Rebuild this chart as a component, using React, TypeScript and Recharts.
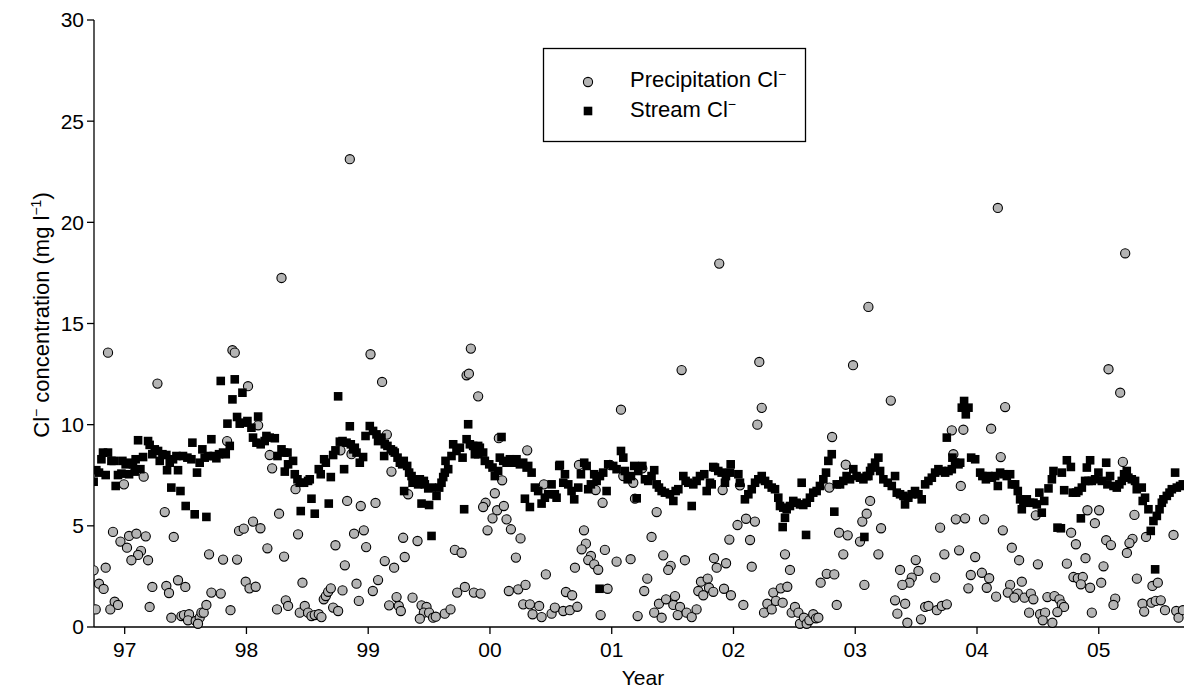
import React from 'react';
import { ScatterChart, Scatter, XAxis, YAxis } from 'recharts';

const yearTicks = [97, 98, 99, 100, 101, 102, 103, 104, 105];
const concTicks = [0, 5, 10, 15, 20, 25, 30];

const precipYears = [
  96.745, 96.844, 96.789, 96.827, 96.762, 96.882, 96.918, 96.945, 96.863, 96.904, 96.965, 97.019, 97.036, 97.096, 97.173,
  97.134, 97.11, 97.055, 97.192, 97.156, 96.994, 97.227, 97.205, 97.269, 97.329, 97.403, 97.342, 97.364, 97.438, 97.498,
  97.383, 97.466, 97.487, 97.529, 97.52, 97.583, 97.616, 97.63, 97.649, 97.671, 97.602, 97.693, 97.712, 97.789, 97.808,
  97.869, 97.841, 97.885, 97.904, 97.923, 97.939, 97.978, 98.013, 97.994, 98.025, 98.096, 98.288, 98.849, 99.019, 99.114,
  98.054, 98.115, 98.172, 98.191, 98.211, 98.268, 98.309, 98.076, 98.403, 98.424, 98.46, 98.251, 98.323, 98.342, 98.438,
  98.479, 98.506, 98.534, 98.561, 98.594, 98.616, 98.635, 98.652, 98.671, 98.693, 98.712, 98.753, 98.789, 98.808, 98.731,
  98.772, 98.827, 98.863, 98.884, 98.904, 98.923, 98.939, 98.964, 98.983, 99.038, 99.06, 99.081, 99.136, 99.153, 99.191,
  99.213, 99.172, 99.233, 99.251, 99.268, 99.287, 99.3, 99.328, 99.405, 99.364, 99.438, 99.479, 99.457, 99.5, 99.424,
  99.533, 99.555, 99.629, 99.676, 99.712, 99.767, 99.731, 99.794, 99.868, 99.923, 99.843, 99.808, 99.827, 99.903, 100.073,
  100.306, 100.1, 100.04, 99.964, 99.944, 100.059, 100.114, 100.021, 99.98, 100.136, 100.172, 100.251, 100.213, 100.443, 100.459,
  100.155, 100.232, 100.292, 100.273, 100.328, 100.404, 100.35, 100.424, 100.506, 100.533, 101.574, 101.076, 100.731, 100.985, 101.095,
  101.177, 100.868, 101.251, 101.191, 100.925, 101.369, 100.772, 100.788, 100.753, 100.829, 100.807, 100.856, 100.889, 100.944, 101.04,
  101.155, 101.327, 101.423, 101.484, 101.464, 101.601, 100.698, 100.624, 100.675, 100.602, 100.656, 100.717, 100.966, 100.909, 101.213,
  101.292, 101.267, 101.349, 101.388, 101.41, 101.446, 101.506, 101.52, 101.561, 101.542, 101.615, 101.657, 101.697, 101.733, 101.788,
  101.711, 101.752, 101.799, 101.834, 101.84, 101.862, 101.883, 102.212, 102.232, 102.196, 102.81, 102.982, 103.108, 102.922, 101.911,
  102.053, 102.787, 102.033, 102.103, 102.176, 101.966, 102.136, 101.939, 102.15, 101.922, 101.979, 102.081, 102.423, 102.464, 102.327,
  102.388, 102.442, 102.251, 102.278, 102.314, 102.349, 102.404, 102.478, 102.505, 102.533, 102.546, 102.579, 102.601, 102.623, 102.655,
  102.678, 102.697, 102.716, 102.766, 102.828, 102.848, 102.867, 102.938, 102.902, 103.039, 103.058, 103.094, 103.122, 103.075, 104.171,
  103.292, 104.231, 103.793, 103.888, 104.116, 103.806, 104.195, 103.867, 103.212, 103.697, 103.826, 103.902, 104.058, 104.212, 104.286,
  104.346, 103.19, 103.732, 103.853, 103.985, 103.497, 103.368, 103.519, 103.464, 103.445, 103.387, 103.656, 103.949, 104.04, 104.1,
  103.929, 104.08, 104.272, 104.253, 104.335, 104.307, 104.368, 104.39, 104.157, 103.327, 103.41, 103.346, 103.428, 103.54, 103.574,
  103.601, 103.67, 103.711, 103.752, 105.217, 105.08, 105.176, 105.198, 105.293, 104.907, 105.003, 104.968, 104.483, 104.773, 104.812,
  105.061, 105.1, 105.277, 105.252, 105.231, 105.388, 105.614, 104.5, 104.738, 104.891, 105.039, 104.792, 104.828, 104.869, 104.853,
  104.929, 105.02, 105.313, 105.441, 105.485, 104.442, 104.463, 104.578, 104.636, 104.677, 104.696, 104.715, 104.428, 104.518, 104.559,
  104.54, 104.619, 104.66, 104.943, 105.135, 105.121, 105.359, 105.373, 105.433, 105.468, 105.509, 105.544, 105.636, 105.655, 105.691,
];

const precipCl = [
  2.8, 2.93, 2.14, 1.88, 0.87, 0.87, 1.25, 1.09, 13.56, 4.7, 4.22, 3.92, 4.5, 4.61, 4.48,
  3.76, 3.56, 3.3, 3.3, 7.43, 7.05, 1.98, 0.99, 12.03, 5.68, 4.45, 2.03, 1.68, 2.31, 1.98,
  0.46, 0.54, 0.59, 0.63, 0.33, 0.3, 0.46, 0.71, 0.71, 1.09, 0.16, 3.59, 1.7, 1.65, 3.33,
  0.83, 9.19, 13.68, 13.56, 3.33, 4.75, 4.86, 11.9, 2.24, 1.91, 9.97, 17.25, 23.12, 13.48, 12.11,
  5.21, 4.88, 3.89, 8.5, 7.84, 5.6, 3.48, 1.99, 6.81, 4.58, 2.19, 0.87, 1.32, 1.04, 0.71,
  1.04, 0.71, 0.54, 0.59, 0.63, 0.49, 1.37, 1.53, 1.74, 1.91, 0.96, 0.79, 1.81, 3.05, 4.04,
  8.73, 6.23, 8.54, 4.61, 2.14, 1.29, 5.98, 4.78, 3.95, 1.78, 6.13, 2.32, 3.26, 9.51, 7.68,
  2.93, 1.07, 1.48, 1.04, 0.79, 4.41, 3.46, 6.56, 4.25, 1.45, 1.07, 0.99, 0.71, 0.71, 0.41,
  0.46, 0.51, 0.66, 0.87, 3.81, 3.67, 1.7, 1.98, 1.7, 1.65, 13.76, 12.44, 12.52, 11.4, 9.33,
  8.73, 7.25, 6.61, 6.14, 5.93, 5.77, 5.98, 5.37, 4.78, 5.32, 4.83, 4.38, 3.43, 7.05, 2.6,
  1.78, 1.86, 2.08, 1.12, 1.12, 1.04, 0.63, 0.49, 0.66, 0.96, 12.7, 10.74, 8.01, 8.01, 7.46,
  7.13, 6.77, 7.84, 6.34, 6.14, 5.68, 4.78, 4.12, 3.84, 3.51, 3.31, 3.1, 2.83, 3.81, 3.23,
  3.35, 4.45, 3.54, 3.02, 2.82, 3.3, 2.93, 1.73, 1.57, 0.79, 0.83, 1.0, 1.89, 0.59, 0.54,
  2.39, 1.78, 0.71, 1.15, 0.46, 1.37, 1.09, 1.53, 0.99, 0.59, 0.71, 0.49, 0.87, 2.24, 2.39,
  1.78, 1.57, 1.94, 1.74, 3.4, 2.93, 17.96, 13.1, 10.83, 10.0, 9.39, 12.94, 15.82, 8.02, 6.77,
  7.0, 6.89, 5.04, 5.35, 5.21, 4.32, 4.3, 3.15, 2.98, 1.89, 1.57, 1.09, 3.59, 2.82, 1.7,
  1.91, 1.99, 0.71, 1.15, 0.87, 1.29, 1.2, 0.71, 0.99, 0.71, 0.16, 0.46, 0.16, 0.33, 0.63,
  0.43, 0.46, 2.19, 2.63, 2.6, 1.09, 4.66, 4.53, 3.59, 4.22, 5.21, 5.6, 6.23, 2.08, 20.71,
  11.19, 10.87, 9.72, 9.75, 9.8, 8.54, 8.4, 6.97, 4.88, 4.91, 5.32, 5.37, 5.32, 4.78, 3.92,
  3.3, 3.59, 3.59, 3.79, 3.46, 3.31, 2.82, 2.77, 2.44, 2.19, 2.08, 2.44, 2.57, 2.68, 2.41,
  1.91, 1.94, 2.08, 1.7, 1.65, 1.45, 2.24, 1.45, 1.5, 1.32, 1.15, 0.66, 0.21, 0.38, 0.99,
  1.04, 0.83, 1.04, 1.12, 18.47, 12.74, 11.58, 8.16, 5.54, 5.77, 5.77, 5.13, 5.52, 4.66, 4.09,
  4.29, 4.05, 4.36, 4.15, 3.66, 4.45, 4.55, 3.1, 3.13, 3.4, 3.0, 2.47, 2.41, 2.47, 2.11,
  1.94, 2.19, 2.39, 2.03, 2.19, 1.65, 1.37, 1.48, 1.53, 1.37, 1.12, 0.99, 0.71, 0.63, 0.71,
  0.33, 0.21, 0.74, 0.71, 1.4, 1.09, 1.15, 0.76, 1.2, 1.29, 1.32, 0.83, 0.79, 0.46, 0.83,
];

const streamYears = [
  96.745, 96.767, 96.789, 96.822, 96.863, 96.809, 96.844, 96.891, 96.91, 96.926, 96.945, 96.973, 96.981, 97.008, 97.027,
  97.036, 97.068, 97.09, 97.082, 97.11, 97.129, 97.151, 97.192, 97.205, 97.227, 97.247, 97.274, 97.288, 97.31, 97.342,
  97.348, 97.37, 97.397, 97.425, 97.383, 97.438, 97.458, 97.479, 97.515, 97.548, 97.501, 97.556, 97.575, 97.594, 97.616,
  97.638, 97.657, 97.684, 97.712, 97.731, 97.753, 97.775, 97.808, 97.83, 97.671, 97.789, 97.844, 97.863, 97.885, 97.904,
  97.923, 97.945, 97.967, 97.986, 98.008, 98.041, 98.096, 98.054, 98.082, 98.117, 98.15, 98.164, 98.191, 98.233, 98.255,
  98.288, 98.309, 98.337, 98.315, 98.342, 98.383, 98.397, 98.419, 98.438, 98.473, 98.506, 98.52, 98.446, 98.534, 98.561,
  98.594, 98.61, 98.638, 98.652, 98.676, 98.693, 98.712, 98.731, 98.767, 98.789, 98.822, 98.857, 98.876, 98.89, 98.753,
  98.802, 98.849, 98.904, 98.931, 98.958, 98.978, 99.013, 99.04, 99.068, 99.081, 99.109, 99.136, 99.131, 99.158, 99.186,
  99.205, 99.218, 99.241, 99.26, 99.279, 99.295, 99.292, 99.32, 99.336, 99.356, 99.364, 99.383, 99.41, 99.424, 99.457,
  99.465, 99.493, 99.52, 99.561, 99.583, 99.602, 99.616, 99.629, 99.657, 99.438, 99.5, 99.52, 99.635, 99.684, 99.698,
  99.725, 99.753, 99.775, 99.788, 99.821, 99.808, 99.835, 99.862, 99.884, 99.903, 99.917, 99.876, 99.903, 99.944, 99.958,
  99.994, 100.021, 100.04, 100.067, 100.081, 100.095, 100.109, 100.136, 100.164, 100.191, 100.218, 100.246, 100.273, 100.301, 100.314,
  100.342, 100.287, 100.328, 100.369, 100.396, 100.424, 100.451, 100.478, 100.506, 100.533, 100.547, 100.569, 100.574, 100.602, 100.616,
  100.643, 100.67, 100.692, 100.725, 100.747, 100.774, 100.794, 100.807, 100.829, 100.856, 100.876, 100.903, 100.93, 100.958, 100.971,
  101.012, 101.04, 101.076, 101.095, 101.108, 101.131, 101.158, 101.185, 101.205, 101.218, 101.251, 101.273, 101.3, 101.327, 101.349,
  101.369, 101.388, 101.41, 101.437, 101.478, 101.506, 101.525, 101.547, 101.588, 101.607, 101.629, 101.657, 101.67, 101.697, 101.725,
  101.76, 101.78, 101.807, 101.834, 100.9, 101.821, 101.848, 101.875, 101.903, 101.938, 101.93, 101.977, 101.971, 102.04, 102.053,
  102.094, 102.122, 102.15, 102.177, 102.204, 102.232, 102.259, 102.286, 102.314, 102.341, 102.368, 102.382, 102.409, 102.437, 102.464,
  102.491, 102.519, 102.546, 102.573, 102.601, 102.628, 102.655, 102.683, 102.71, 102.738, 102.76, 102.779, 102.807, 102.56, 102.828,
  102.423, 102.404, 102.596, 102.848, 102.875, 102.902, 102.929, 102.957, 102.984, 103.011, 103.039, 103.067, 103.094, 103.122, 103.075,
  103.108, 103.135, 103.163, 103.19, 103.204, 103.231, 103.267, 103.3, 103.327, 103.341, 103.368, 103.396, 103.409, 103.436, 103.464,
  103.491, 103.519, 103.546, 103.574, 103.601, 103.629, 103.656, 103.683, 103.711, 103.738, 103.752, 103.766, 103.793, 103.798, 103.82,
  103.848, 103.862, 103.875, 103.894, 103.908, 103.93, 103.952, 103.985, 104.026, 104.044, 104.073, 104.094, 104.122, 104.149, 104.171,
  104.19, 104.217, 104.245, 104.272, 104.286, 104.313, 104.335, 104.354, 104.368, 104.39, 104.381, 104.409, 104.436, 104.464, 104.491,
  104.512, 104.532, 104.552, 104.587, 104.615, 104.628, 104.661, 104.689, 104.697, 104.716, 104.738, 104.771, 104.787, 104.814, 104.833,
  104.853, 104.861, 104.888, 104.902, 104.929, 104.916, 104.943, 104.97, 104.997, 105.025, 105.061, 105.071, 105.093, 105.121, 105.148,
  105.169, 105.189, 105.208, 105.23, 105.243, 105.271, 105.298, 105.312, 105.353, 105.361, 105.38, 105.408, 105.427, 105.449, 105.463,
  105.477, 105.499, 105.518, 105.531, 105.559, 105.581, 105.6, 105.627, 105.641, 105.668, 105.69,
];

const streamCl = [
  7.18, 7.75, 7.63, 8.62, 8.62, 8.29, 7.51, 8.21, 8.21, 6.97, 7.51, 7.58, 8.21, 8.04, 8.12,
  7.55, 8.04, 8.29, 7.68, 9.23, 7.8, 8.4, 9.19, 9.0, 8.54, 8.78, 8.7, 8.21, 8.54, 8.5,
  7.75, 8.12, 8.29, 8.45, 6.89, 7.75, 6.72, 8.45, 8.37, 8.29, 5.98, 9.11, 5.57, 7.63, 8.12,
  8.78, 8.37, 8.45, 9.28, 8.45, 8.34, 8.54, 8.62, 8.54, 5.44, 12.16, 10.05, 8.95, 11.25, 12.24,
  10.38, 10.05, 11.58, 10.1, 10.18, 9.85, 10.4, 9.36, 9.11, 9.03, 9.19, 9.44, 9.36, 9.33, 8.45,
  8.78, 8.62, 8.62, 7.68, 8.04, 8.21, 7.55, 7.3, 7.13, 7.13, 7.22, 7.3, 5.73, 6.34, 5.6,
  7.8, 7.55, 8.29, 8.12, 6.1, 7.41, 8.5, 8.73, 9.16, 9.19, 9.11, 9.03, 8.78, 8.86, 11.4,
  7.8, 9.92, 8.62, 8.12, 8.4, 9.44, 9.93, 9.69, 9.52, 9.19, 9.36, 9.03, 8.45, 8.95, 8.78,
  8.7, 8.62, 8.37, 8.12, 8.04, 6.72, 8.21, 7.96, 7.63, 7.46, 7.13, 7.3, 7.05, 7.3, 7.22,
  7.05, 6.85, 6.89, 6.48, 6.89, 7.13, 7.41, 7.63, 7.8, 6.1, 6.03, 4.5, 8.21, 8.45, 9.03,
  8.7, 8.86, 8.37, 5.82, 10.02, 9.28, 9.03, 8.95, 8.7, 8.95, 8.86, 8.54, 8.54, 8.62, 8.21,
  8.04, 7.88, 7.46, 7.71, 8.37, 9.39, 8.21, 8.12, 8.29, 8.12, 8.29, 8.04, 8.12, 7.88, 7.96,
  7.63, 6.34, 5.93, 6.89, 6.72, 6.1, 6.39, 6.56, 7.05, 6.56, 6.39, 7.96, 8.01, 7.13, 7.55,
  7.05, 6.72, 6.31, 6.89, 7.55, 8.12, 7.96, 6.81, 7.05, 7.55, 7.22, 7.46, 7.63, 6.72, 8.04,
  7.96, 7.8, 8.7, 8.37, 7.71, 7.3, 7.46, 7.96, 6.36, 7.71, 7.96, 7.3, 7.22, 7.46, 7.75,
  7.05, 6.89, 6.72, 6.64, 6.56, 6.23, 6.72, 6.81, 7.46, 7.22, 7.13, 5.98, 7.05, 7.22, 7.46,
  7.55, 6.72, 7.13, 7.91, 1.89, 7.05, 7.88, 7.71, 7.63, 7.46, 7.13, 8.04, 7.63, 7.55, 7.13,
  6.31, 6.56, 6.81, 7.13, 7.3, 7.46, 7.22, 7.05, 6.89, 6.81, 6.39, 5.98, 5.9, 5.82, 5.98,
  6.23, 6.14, 6.06, 6.03, 6.14, 6.39, 6.64, 6.72, 6.97, 7.3, 7.63, 8.21, 8.54, 7.13, 5.7,
  5.4, 4.94, 4.55, 7.05, 7.05, 7.22, 7.46, 7.3, 7.8, 7.46, 7.38, 7.3, 7.46, 7.71, 4.45,
  7.46, 7.88, 8.12, 8.37, 7.71, 7.3, 7.13, 6.97, 7.46, 6.64, 6.56, 6.48, 6.06, 6.39, 6.56,
  6.72, 6.56, 6.31, 7.05, 7.22, 7.38, 7.63, 7.8, 7.71, 7.63, 9.36, 7.71, 7.8, 8.37, 8.12,
  8.04, 8.12, 10.84, 11.17, 10.51, 10.84, 8.37, 8.29, 7.63, 7.46, 7.3, 7.46, 7.38, 7.46, 6.97,
  7.63, 7.55, 7.46, 7.55, 7.05, 7.05, 6.72, 6.31, 5.82, 6.23, 6.23, 6.31, 6.14, 6.14, 6.06,
  6.64, 5.65, 6.23, 6.85, 7.3, 7.71, 4.91, 4.88, 7.63, 6.76, 8.24, 7.91, 6.64, 6.64, 6.72,
  5.37, 6.89, 7.22, 7.88, 8.24, 7.22, 7.22, 7.3, 7.63, 7.22, 8.12, 7.05, 7.46, 6.97, 6.89,
  7.05, 7.22, 7.55, 7.71, 7.38, 7.3, 7.22, 6.81, 6.89, 6.23, 6.39, 5.82, 4.75, 5.24, 2.85,
  5.49, 5.82, 6.14, 6.31, 6.48, 6.64, 6.81, 7.63, 6.89, 6.97, 7.05,
];

const precipData = precipYears.map((x, i) => ({ x, y: precipCl[i] }));
const streamData = streamYears.map((x, i) => ({ x, y: streamCl[i] }));

const FONT = '"Liberation Sans", Arial, Helvetica, sans-serif';

const PrecipDot = (p: any) => (
  <circle cx={p.cx} cy={p.cy} r={4.6} fill="#b4b4b4" stroke="#000" strokeWidth={1.1} />
);
const StreamDot = (p: any) => (
  <rect x={p.cx - 4.3} y={p.cy - 4.3} width={8.6} height={8.6} fill="#000" />
);

const fmtYear = (v: number) => String(Math.round(v) % 100).padStart(2, '0');

export default function App() {
  return (
    <div style={{ position: 'absolute', left: 0, top: 0, width: 1184, height: 689, background: '#fff' }}>
      <ScatterChart width={1184} height={689} margin={{ top: 20, right: 0, bottom: 0, left: 0 }}>
        <XAxis
          type="number"
          dataKey="x"
          domain={[96.748, 105.7]}
          allowDataOverflow
          ticks={yearTicks}
          tickFormatter={fmtYear}
          tickSize={7}
          tickMargin={8}
          height={62}
          stroke="#000"
          strokeWidth={1.3}
          tick={{ fill: '#000', fontSize: 21, fontFamily: FONT }}
          label={{
            content: () => (
              <text x={643} y={685} textAnchor="middle" fontSize={21} fontFamily={FONT} fill="#000">
                Year
              </text>
            ),
          }}
        />
        <YAxis
          type="number"
          dataKey="y"
          domain={[0, 30]}
          ticks={concTicks}
          tickSize={7}
          tickMargin={3}
          width={94}
          stroke="#000"
          strokeWidth={1.3}
          tick={{ fill: '#000', fontSize: 21, fontFamily: FONT }}
          label={{
            content: () => (
              <text transform="rotate(-90)" x={-315} y={49} textAnchor="middle" fontSize={22} fontFamily={FONT} fill="#000">
                Cl<tspan dy={-8} fontSize={14}>−</tspan>
                <tspan dy={8}> concentration (mg l</tspan>
                <tspan dy={-8} fontSize={14}>−1</tspan>
                <tspan dy={8}>)</tspan>
              </text>
            ),
          }}
        />
        <Scatter data={precipData} shape={PrecipDot} isAnimationActive={false} />
        <Scatter data={streamData} shape={StreamDot} isAnimationActive={false} />
      </ScatterChart>
      <svg width={1184} height={689} style={{ position: 'absolute', left: 0, top: 0, pointerEvents: 'none' }}>
        <rect x={543.5} y={48.5} width={262} height={93} fill="none" stroke="#000" strokeWidth={1.3} />
        <circle cx={588} cy={82} r={4.6} fill="#b4b4b4" stroke="#000" strokeWidth={1.1} />
        <rect x={583.7} y={106.7} width={8.6} height={8.6} fill="#000" />
        <text x={630} y={87} fontSize={22} fontFamily={FONT} fill="#000">
          Precipitation Cl<tspan dy={-8} fontSize={14}>−</tspan>
        </text>
        <text x={630} y={117} fontSize={22} fontFamily={FONT} fill="#000">
          Stream Cl<tspan dy={-8} fontSize={14}>−</tspan>
        </text>
      </svg>
    </div>
  );
}
